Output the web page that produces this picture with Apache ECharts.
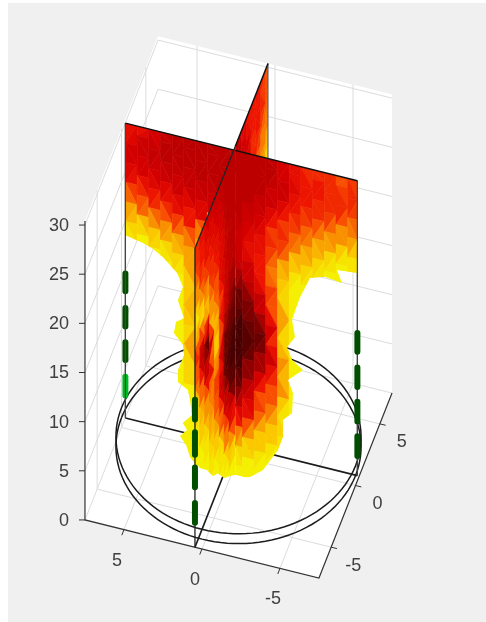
<!DOCTYPE html>
<html><head><meta charset="utf-8">
<style>html,body{margin:0;padding:0;background:#fff}#c{width:486px;height:622px;filter:blur(0.55px)}</style>
<script src="https://cdn.jsdelivr.net/npm/echarts@6/dist/echarts.min.js"></script>
</head><body><div id="c"></div>
<script>
// ---- axis ticks ----
const xTicks=[-5,0,5], yTicks=[-5,0,5], zTicks=[0,5,10,15,20,25,30];
const axisLimit=7.5, zTop=30.4;
// ---- rings and thermocouple trees (data units) ----
const ringRadius=7.5, ringHeights=[1,2];
const planeAy=0.77, planeBx=0.45;
const treeA=[[14.7,12.9],[11.2,9.3],[7.7,5.9]], treeAbright=[[4.2,2.3]];
const treeB=[[15,13],[11.7,9.4],[8.1,6.1],[4.5,2.5]];
const treeC=[[14.5,12.6],[11,9],[7.5,5.5],[4,2]];
// ---- temperature level colours, 1 (coolest shown) .. 9 (hottest) ----
const levelColors=['#f5f000','#fbc800','#f89000','#f85000','#ee1500','#d40000','#bc0000','#7c0000','#480000'];
// ---- plane rows: index k is z=30-k ----
const seamCore=[7,7,7,7,7,7,7,7,6,7,6,7,7,8,8,8,8,9,9,9,9,9,9,9,8,7,7,5,4,3,2,1,1,0];
// plane A, left part: stations along x
const stationsAL=[7.49,6.74,5.99,5.24,4.49,3.74,2.99,2.24,1.49,0.74,0.45];
const planeAL=[
[5,5,6,6,6,5,5,4,3,2,2,1,0],
[5,6,6,6,6,5,5,4,3,3,2,1,1,0],
[5,6,7,7,6,6,5,5,4,3,2,1,1,0],
[6,7,7,7,6,6,6,5,4,3,3,2,1,1,0],
[7,7,7,7,6,6,6,5,5,4,3,2,2,1,1,0],
[7,7,7,7,7,6,6,5,5,4,3,3,2,2,1,1,1,2,1,1,1,1,1,1,1,1,0,0,1,1,1,1,0,0],
[7,7,7,7,7,7,6,6,5,5,4,3,3,3,3,3,2,2,3,3,4,4,4,3,2,1,1,1,1,1,2,1,1,0],
[7,7,7,7,7,6,6,6,6],
[7,7,7,7,7,7,6,6],
[7,7,7,7,7,7],
seamCore];
// outline of the plume on that part: [x, z]
const outlineAL=[[7.49,30],[0.45,30],[0.45,-3],[2.96,-3],[3.35,-2.34],[3.6,-1.22],[3.99,-0.45],[3.54,0.34],[3.8,0.95],[3.22,1.98],[3.35,3.46],[3.48,4.43],[4.12,5],[4.12,6.2],[3.73,7.9],[3.8,8.88],[4.38,9.88],[4.25,11.05],[3.73,11.66],[3.99,12.7],[4.12,13.3],[3.8,14.8],[4.18,16.05],[4.63,16.7],[5.08,17.3],[5.79,17.96],[6.36,18.25],[7.49,18.6]];
// plane A, right part: stations along x
const stationsAR=[0.45,-0.01,-0.76,-1.51,-2.26,-3.01,-3.76,-4.51,-5.26,-6.01,-6.76,-7.38];
const planeAR=[
seamCore,
[7,7,7,7,7,7,7,6,7,6,6,6,7,8,8,8,9,9,9,9,9,9,9,8,8,7,6,5,4,3,2,1,1,0],
[7,7,7,7,7,7,6,6,6,5,5,5,5,6,7,7,8,8,8,8,9,8,7,6,5,6,5,4,3,2,2,1,1,0],
[7,7,7,7,7,6,6,5,5,5,5,4,5,4,5,6,6,7,8,8,7,6,6,5,4,4,3,3,2,2,1,1,0,0],
[6,7,7,6,6,6,5,4,5,4,4,3,2,3,3,3,4,3,3,3,3,5,5,4,3,3,2,2,2,1,1,0,0,0],
[5,6,6,6,6,5,4,4,4,3,3,2,1,1,1,1,1,1,1,1,1,1,1,1,1,1,0,0],
[5,5,5,5,5,5,4,4,3,3,2,1,1,1,0,0,0,0,0,0,1,0],
[4,5,5,5,5,5,4,3,3,2,2,1,0],
[5,5,5,5,5,4,4,3,2,2,1,0],
[4,4,5,5,4,4,3,3,2,1,1,0],
[4,4,5,5,4,3,3,2,2,1,0],
[4,4,5,5,4,3,3,2,1,1,0]];
const outlineAR=[[0.45,30],[-7.38,30],[-7.38,20.6],[-6.07,20.4],[-6.39,19.2],[-5.3,19.4],[-4.34,18.9],[-4.02,17.76],[-3.7,16.7],[-3.45,15.5],[-3.19,14.2],[-3.38,12.5],[-2.87,11.3],[-3.19,10.1],[-3.89,9.37],[-2.93,7.97],[-3.25,6.77],[-3.19,4.71],[-2.61,3.77],[-2.61,2.04],[-2.29,0.6],[-1.33,-1.82],[-0.5,-2.86],[-0.18,-3],[0.45,-3]];
// plane B, near part: stations along y
const stationsBN=[-7.5,-6.5,-5.5,-4.5,-3.5,-2.5,-1.5,-0.5,0.77];
const planeBN=[
[5,5,4,4,3,3,2,1,1,2,4,4,5,3,2,2,2,2,1,1,1,1,0],
[5,5,5,5,4,4,3,2,1,1,3,4,5,6,5,3,3,2,2,2,1,1,1,0],
[6,5,5,5,5,4,4,3,2,1,4,8,8,7,7,6,5,3,3,3,2,2,1,1,1,0],
[6,6,6,5,5,5,4,4,3,3,2,2,9,9,8,8,7,5,4,3,3,3,2,2,1,1,1,0],
[6,6,6,6,5,5,5,5,4,4,3,3,2,2,1,1,3,3,4,4,4,3,3,2,2,2,1,1,0],
[7,6,6,6,6,5,5,6,5,5,4,4,4,3,3,3,2,3,4,5,5,5,4,3,3,2,2,1,1,0],
[7,7,7,7,7,6,6,6,6,6,6,6,6,6,7,7,8,8,8,8,8,7,7,6,5,4,3,2,2,1,1,0],
[7,7,7,7,7,7,7,7,7,7,7,7,7,7,7,8,8,8,9,9,9,9,8,8,7,6,5,4,3,2,1,1,0,0],
seamCore];
const outlineBN=[[-7.5,30.4],[0.77,30.4],[0.77,-3],[-0.31,-1.77],[-1.54,-0.44],[-2.77,1.6],[-3.8,2.6],[-5.03,4.76],[-6.47,6.77],[-7.5,8.67]];
// plane B, far part: stations along y (only the part above plane A is seen)
const stationsBF=[0.77,2,3,4,5,6,7,7.5];
const planeBF=[
seamCore.slice(0,13),
[6,6,7,7,7,7,7,7,7,7,7,7,7],
[5,6,6,6,7,7,7,7,7,7,7,7,7],
[5,5,5,5,5,5,6,6,6,6,6,6,6],
[5,5,5,5,5,4,4,5,5,5,5,5,5],
[5,5,5,5,5,4,4,3,3,3,3,3,3],
[4,4,4,4,4,3,3,3,2,2,2,2,2],
[4,4,4,3,3,3,3,2,2,1,1,1,1]];
const outlineBF=[[0.77,30.4],[7.5,30.4],[7.5,18],[0.77,18]];

// ---- orthographic view of the 3-D axes ----
const VIEW={o:[238.5,456.5],ex:[-15.6,-3.87],ey:[4.87,-12.33],ez:[0,-9.83]};
function P(x,y,z){return [VIEW.o[0]+x*VIEW.ex[0]+y*VIEW.ey[0]+z*VIEW.ez[0],
                          VIEW.o[1]+x*VIEW.ex[1]+y*VIEW.ey[1]+z*VIEW.ez[1]];}
function hex(c){return [1,3,5].map(i=>parseInt(c.substr(i,2),16));}
function levelColor(v){
  const t=Math.max(0,Math.min(8,v-1)),a=Math.floor(t),b=Math.min(8,a+1),f=t-a;
  const A=hex(levelColors[a]),B=hex(levelColors[b]);
  return 'rgb('+A.map((q,i)=>Math.round(q+(B[i]-q)*f)).join(',')+')';
}
const series=[];
function polygonSeries(polys){
  series.push({type:'custom',coordinateSystem:'cartesian2d',clip:false,silent:true,animation:false,progressive:0,
    data:polys.map((p,i)=>[i]),encode:{x:0,y:0},
    renderItem:(params,api)=>{const p=polys[api.value(0)];
      return {type:'polygon',shape:{points:p.pts.map(q=>api.coord(q))},
        style:{fill:p.fill,stroke:p.fill,lineWidth:p.lw===undefined?0.6:p.lw}};}});
}
function lineSeries(lines){
  series.push({type:'custom',coordinateSystem:'cartesian2d',clip:false,silent:true,animation:false,progressive:0,
    data:lines.map((p,i)=>[i]),encode:{x:0,y:0},
    renderItem:(params,api)=>{const p=lines[api.value(0)];
      return {type:'polyline',shape:{points:p.pts.map(q=>api.coord(q))},
        style:{fill:null,stroke:p.color,lineWidth:p.w,lineCap:p.cap||'butt'}};}});
}
function meshSeries(cols,stations,toPoint,rowZ,outline,rowStep){
  const polys=[],val=(c,k)=>cols[c][k]||1;
  const rows=Math.max(...cols.map(c=>c.length));
  for(let c=0;c<cols.length-1;c++){
    for(let k=(c%2)?-1:0;k<rows-1;k+=rowStep){
      const k0=Math.max(0,k),k1=Math.min(rows-1,k+rowStep);
      const pts={a:toPoint(stations[c],rowZ(k0)),b:toPoint(stations[c+1],rowZ(k0)),
                 d:toPoint(stations[c],rowZ(k1)),e:toPoint(stations[c+1],rowZ(k1))};
      const va={a:val(c,k0),b:val(c+1,k0),d:val(c,k1),e:val(c+1,k1)};
      const tris=(c+k)%4<2?[['a','b','d'],['b','e','d']]:[['a','b','e'],['a','e','d']];
      tris.forEach(t=>{
        const m=t.reduce((s,n)=>s+va[n],0)/3;
        polys.push({pts:t.map(n=>pts[n]),fill:levelColor(m)});
      });
    }
  }
  const clipPts=outline.map(q=>toPoint(q[0],q[1]));
  series.push({type:'custom',coordinateSystem:'cartesian2d',clip:false,silent:true,animation:false,progressive:0,
    data:[[0]],encode:{x:0,y:0},
    renderItem:(params,api)=>({type:'group',
      clipPath:{type:'polygon',shape:{points:clipPts.map(q=>api.coord(q))}},
      children:polys.map(p=>({type:'polygon',shape:{points:p.pts.map(q=>api.coord(q))},
        style:{fill:p.fill,stroke:p.fill,lineWidth:0.6}}))})});
}
const L=axisLimit;
polygonSeries([{pts:[[8,3],[486,3],[486,622],[8,622]],fill:'#f0f0f0',lw:0},
  {pts:[P(L,-L,0),P(-L,-L,0),P(-L,L,0),P(-L,L,zTop),P(L,L,zTop),P(L,-L,zTop)],fill:'#ffffff',lw:0}]);
const GRID='#dcdcdc',grid=[];
xTicks.forEach(t=>{grid.push({pts:[P(t,-L,0),P(t,L,0),P(t,L,zTop)],color:GRID,w:1});});
yTicks.forEach(t=>{grid.push({pts:[P(-L,t,0),P(L,t,0),P(L,t,zTop)],color:GRID,w:1});});
zTicks.forEach(t=>{grid.push({pts:[P(-L,L,t),P(L,L,t),P(L,-L,t)],color:GRID,w:1});});
lineSeries(grid);
const AX='#333333',axes=[{pts:[P(L,-L,zTop),P(L,-L,0),P(-L,-L,0),P(-L,L,0)],color:AX,w:1.2}];
zTicks.forEach(t=>{const p=P(L,-L,t);axes.push({pts:[p,[p[0]-6,p[1]]],color:AX,w:1});});
xTicks.forEach(t=>{const p=P(t,-L,0);axes.push({pts:[p,[p[0]-2.2,p[1]+5.6]],color:AX,w:1});});
yTicks.forEach(t=>{const p=P(-L,t,0);axes.push({pts:[p,[p[0]+5.8,p[1]+1.4]],color:AX,w:1});});
lineSeries(axes);
const rings=ringHeights.map(h=>{const pts=[];for(let a=0;a<=120;a++){const t=a/120*2*Math.PI;
  pts.push(P(ringRadius*Math.cos(t),ringRadius*Math.sin(t),h));}return {pts,color:'#1c1c1c',w:1.5};});
rings.push({pts:[P(stationsAL[0],planeAy,0),P(-7.38,planeAy,0)],color:'#1c1c1c',w:1.7});
rings.push({pts:[P(planeBx,-L,0),P(planeBx,L,0)],color:'#1c1c1c',w:1.7});
lineSeries(rings);
const zA=k=>30-k, zB=k=>k===0?zTop:30-k;
const onA=(x,z)=>P(x,planeAy,z), onB=(y,z)=>P(planeBx,y,z);
meshSeries(planeBF,stationsBF,onB,zB,outlineBF,2);
lineSeries([{pts:[P(planeBx,L,zTop),P(planeBx,L,18)],color:'#555555',w:1},
            {pts:[P(planeBx,planeAy,zTop),P(planeBx,L,zTop)],color:'#111111',w:1.5}]);
lineSeries([{pts:[P(stationsAL[0],planeAy,0),P(stationsAL[0],planeAy,30)],color:'#444444',w:1.2},
            {pts:[P(-7.38,planeAy,0),P(-7.38,planeAy,30)],color:'#444444',w:1.2}]);
const dash=(arr,x,y,color)=>arr.map(d=>({pts:[P(x,y,d[0]),P(x,y,d[1])],color,w:6,cap:'round'}));
lineSeries(dash(treeA,stationsAL[0],planeAy,'#004f00').concat(dash(treeAbright,stationsAL[0],planeAy,'#00b824')));
meshSeries(planeAL,stationsAL,onA,zA,outlineAL,2);
meshSeries(planeAR,stationsAR,onA,zA,outlineAR,2);
lineSeries([{pts:[P(-7.38,planeAy,0),P(-7.38,planeAy,30)],color:'#444444',w:1.2},
            {pts:[P(stationsAL[0],planeAy,0),P(stationsAL[0],planeAy,30)],color:'#444444',w:1.2},
            {pts:[P(stationsAL[0],planeAy,30),P(-7.38,planeAy,30)],color:'#111111',w:1.5}]);
lineSeries(dash(treeC,-7.38,planeAy,'#004f00'));
meshSeries(planeBN,stationsBN,onB,zB,outlineBN,2);
lineSeries([{pts:[P(planeBx,-L,0),P(planeBx,-L,zTop),P(planeBx,planeAy,zTop)],color:'#222222',w:1.3}]);
lineSeries(dash(treeB,planeBx,-L,'#004f00'));
const labels=[];
zTicks.forEach(t=>{const p=P(L,-L,t);labels.push({p:[p[0]-16,p[1]+1],t:String(t),a:'right'});});
xTicks.forEach(t=>{const p=P(t,-L,0);labels.push({p:[p[0]-7,p[1]+31],t:String(t),a:'center'});});
yTicks.forEach(t=>{const p=P(-L,t,0);labels.push({p:[p[0]+22,p[1]+18.5],t:String(t),a:'center'});});
series.push({type:'custom',coordinateSystem:'cartesian2d',clip:false,silent:true,animation:false,
  data:labels.map((l,i)=>[i]),encode:{x:0,y:0},
  renderItem:(params,api)=>{const l=labels[api.value(0)],c=api.coord(l.p);
    return {type:'text',x:c[0],y:c[1],style:{text:l.t,fill:'#404040',textAlign:l.a,textVerticalAlign:'middle',
      font:'18px "Liberation Sans", Arial, sans-serif'}};}});

const chart=echarts.init(document.getElementById('c'));
chart.setOption({animation:false,backgroundColor:'#ffffff',
  grid:{left:0,right:0,top:0,bottom:0},
  xAxis:{type:'value',min:0,max:486,show:false},
  yAxis:{type:'value',min:0,max:622,inverse:true,show:false},
  series});
</script></body></html>
